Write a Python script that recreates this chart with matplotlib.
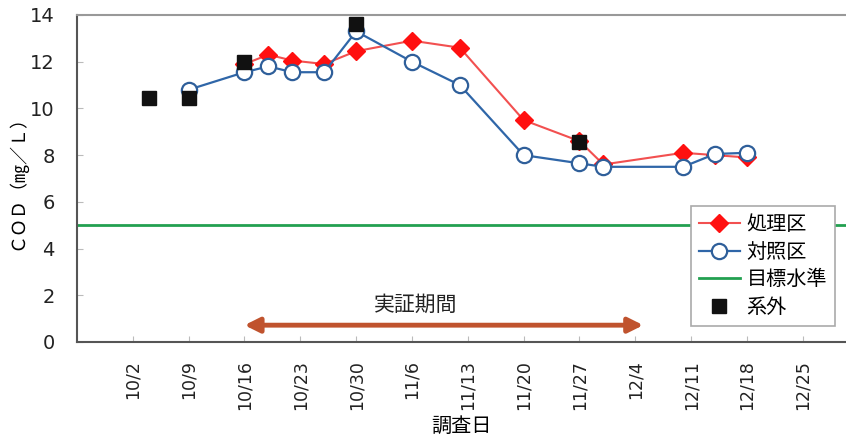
import datetime as dt
import matplotlib
matplotlib.use("Agg")
import matplotlib.pyplot as plt

plt.rcParams['font.family'] = ['Noto Sans CJK JP', 'DejaVu Sans']

YEAR = 2013

def d(s):
    m, day = s.split("/")
    return dt.datetime(YEAR, int(m), int(day))

# 処理区
treat_dates = ["10/16", "10/19", "10/22", "10/26", "10/30", "11/6", "11/12",
               "11/20", "11/27", "11/30", "12/10", "12/14", "12/18"]
treat_cod = [11.9, 12.3, 12.05, 11.9, 12.45, 12.9, 12.6,
             9.5, 8.6, 7.6, 8.1, 8.0, 7.9]

# 対照区
ctrl_dates = ["10/9", "10/16", "10/19", "10/22", "10/26", "10/30", "11/6",
              "11/12", "11/20", "11/27", "11/30", "12/10", "12/14", "12/18"]
ctrl_cod = [10.8, 11.55, 11.8, 11.55, 11.55, 13.3, 12.0,
            11.0, 8.0, 7.65, 7.5, 7.5, 8.05, 8.1]

# 系外
out_dates = ["10/4", "10/9", "10/16", "10/30", "11/27"]
out_cod = [10.45, 10.45, 12.0, 13.6, 8.55]

target = 5.0
period = ("10/16", "12/5")

tick_labels = ["10/2", "10/9", "10/16", "10/23", "10/30", "11/6", "11/13",
               "11/20", "11/27", "12/4", "12/11", "12/18", "12/25"]

fig = plt.figure(figsize=(8.46, 4.41), dpi=100)
ax = fig.add_axes([0.091, 0.2245, 0.909, 0.7415])

ax.axhline(target, color="#22a050", lw=2, label="目標水準", zorder=1)

ax.plot([d(s) for s in treat_dates], treat_cod, color="#f25050", lw=1.5,
        marker="D", markersize=9, markerfacecolor="#ff1010",
        markeredgecolor="#ff1010", label="処理区", zorder=3)
ax.plot([d(s) for s in ctrl_dates], ctrl_cod, color="#2f66a8", lw=1.6,
        marker="o", markersize=11, markerfacecolor="white",
        markeredgecolor="#2f5f9a", markeredgewidth=1.6, label="対照区", zorder=4)
ax.plot([d(s) for s in out_dates], out_cod, ls="none", marker="s",
        markersize=10, color="#111111", label="系外", zorder=5)

# 実証期間 arrow
ax.annotate("", xy=(d(period[1]), 0.72), xytext=(d(period[0]), 0.72),
            arrowprops=dict(arrowstyle="<|-|>", color="#c0532e", lw=3.5,
                            mutation_scale=22, shrinkA=0, shrinkB=0))
ax.text(d("11/6") + dt.timedelta(hours=10), 1.6, "実証期間", fontsize=15,
        ha="center", va="center", color="#222222")

ax.set_ylim(0, 14)
ax.set_yticks(range(0, 15, 2))
ax.set_xlim(d("9/25"), dt.datetime(YEAR, 12, 30, 10))
ax.set_xticks([d(s) for s in tick_labels])
ax.set_xticklabels(tick_labels, rotation=90, fontsize=12.5,
                   family=['DejaVu Sans'])
for lab in ax.get_yticklabels():
    lab.set_fontsize(14)
    lab.set_family(['DejaVu Sans'])

ax.tick_params(axis="both", direction="in", length=4, color="#bbbbbb",
               colors="#222222")
ax.tick_params(axis="x", pad=13)
ax.tick_params(axis="y", pad=16)

ax.spines["right"].set_visible(False)
ax.spines["left"].set_color("#555555")
ax.spines["bottom"].set_color("#555555")
ax.spines["top"].set_color("#999999")
for sp in ["left", "bottom", "top"]:
    ax.spines[sp].set_linewidth(1.5)

ax.set_ylabel("ＣＯＤ（㎎／Ｌ）", fontsize=13, labelpad=3)
ax.set_xlabel("調査日", fontsize=14.5, labelpad=4)

handles, labels = ax.get_legend_handles_labels()
order = [labels.index(n) for n in ["処理区", "対照区", "目標水準", "系外"]]
leg = ax.legend([handles[i] for i in order], [labels[i] for i in order],
                loc="lower right", bbox_to_anchor=(0.986, 0.05),
                fontsize=14.5, fancybox=False, framealpha=1,
                edgecolor="#aaaaaa", handlelength=2.0, borderpad=0.4,
                labelspacing=0.32, handletextpad=0.35, borderaxespad=0)
leg.get_frame().set_linewidth(1.2)

fig.savefig("out.png", dpi=100)
